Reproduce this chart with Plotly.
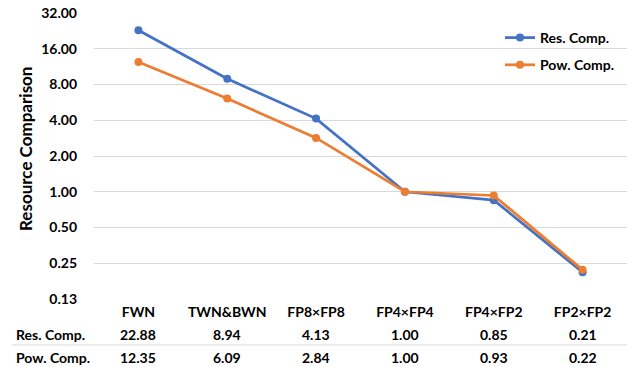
import plotly.graph_objects as go
import math

categories = ["FWN", "TWN&BWN", "FP8×FP8", "FP4×FP4", "FP4×FP2", "FP2×FP2"]
res_comp = [22.88, 8.94, 4.13, 1.00, 0.85, 0.21]
pow_comp = [12.35, 6.09, 2.84, 1.00, 0.93, 0.22]
series_names = ["Res. Comp.", "Pow. Comp."]
tick_vals = [0.125, 0.25, 0.5, 1, 2, 4, 8, 16, 32]
tick_text = ["0.13", "0.25", "0.50", "1.00", "2.00", "4.00", "8.00", "16.00", "32.00"]

BLUE = "#4472C4"
ORANGE = "#ED7D31"
FONT = "Lato"
TXT = "#000000"
FS = 14

fig = go.Figure()
for name, vals, col, grp in [(series_names[0], res_comp, BLUE, "a"),
                              (series_names[1], pow_comp, ORANGE, "b")]:
    fig.add_trace(go.Scatter(
        x=list(range(len(categories))), y=vals, name=name, mode="lines+markers",
        line=dict(color=col, width=2.75), marker=dict(color=col, size=8),
        legendgroup=grp))

L, R, T, B = 94, 0, 13, 68
W, H = 627, 367
pw = W - L - R
ph = H - T - B

def px_x(x):
    return (x - L) / pw

def px_y(y):
    return (H - B - y) / ph

annotations = []
for row_name, vals, ypix in [(series_names[0], res_comp, 334), (series_names[1], pow_comp, 357)]:
    annotations.append(dict(x=px_x(14), y=px_y(ypix), xref="paper", yref="paper",
                            text=row_name, showarrow=False, xanchor="left", yanchor="middle",
                            font=dict(family=FONT, size=FS, color=TXT, weight="bold")))
    for i, v in enumerate(vals):
        annotations.append(dict(x=i, y=px_y(ypix), xref="x", yref="paper",
                                text=f"{v:.2f}", showarrow=False, xanchor="center", yanchor="middle",
                                font=dict(family=FONT, size=FS, color=TXT, weight="bold")))
annotations.append(dict(x=px_x(25), y=px_y(149), xref="paper", yref="paper",
                        text="Resource Comparison", textangle=-90, showarrow=False,
                        xanchor="center", yanchor="middle",
                        font=dict(family=FONT, size=17, color=TXT, weight="bold")))

fig.update_layout(
    width=W, height=H,
    margin=dict(l=L, r=R, t=T, b=B),
    paper_bgcolor="white", plot_bgcolor="white",
    font=dict(family=FONT, size=FS, color=TXT),
    showlegend=True,
    legend=dict(x=px_x(500), y=px_y(22), xanchor="left", yanchor="top",
                bgcolor="rgba(0,0,0,0)", tracegroupgap=6, traceorder="grouped",
                font=dict(family=FONT, size=FS, color=TXT, weight="bold")),
    annotations=annotations,
    shapes=[dict(type="line", xref="paper", yref="paper",
                 x0=px_x(12), x1=1, y0=px_y(345), y1=px_y(345),
                 line=dict(color="#d9d9d9", width=1))],
)
fig.update_xaxes(range=[-0.5, len(categories) - 0.5], tickvals=list(range(len(categories))),
                 ticktext=categories, showgrid=False, zeroline=False, showline=False,
                 ticks="", ticklabelstandoff=3,
                 tickfont=dict(family=FONT, size=FS, color=TXT, weight="bold"))
fig.update_yaxes(type="log", range=[math.log10(0.125), math.log10(32)],
                 tickvals=tick_vals, ticktext=tick_text, showgrid=True, gridcolor="#d9d9d9",
                 gridwidth=1, zeroline=False, showline=False, ticks="", ticklabelstandoff=16,
                 tickfont=dict(family=FONT, size=FS, color=TXT, weight="bold"))

fig.write_html("out.html", config={"displayModeBar": False},
               post_script="document.body.style.margin='0';document.body.style.overflow='hidden';")
